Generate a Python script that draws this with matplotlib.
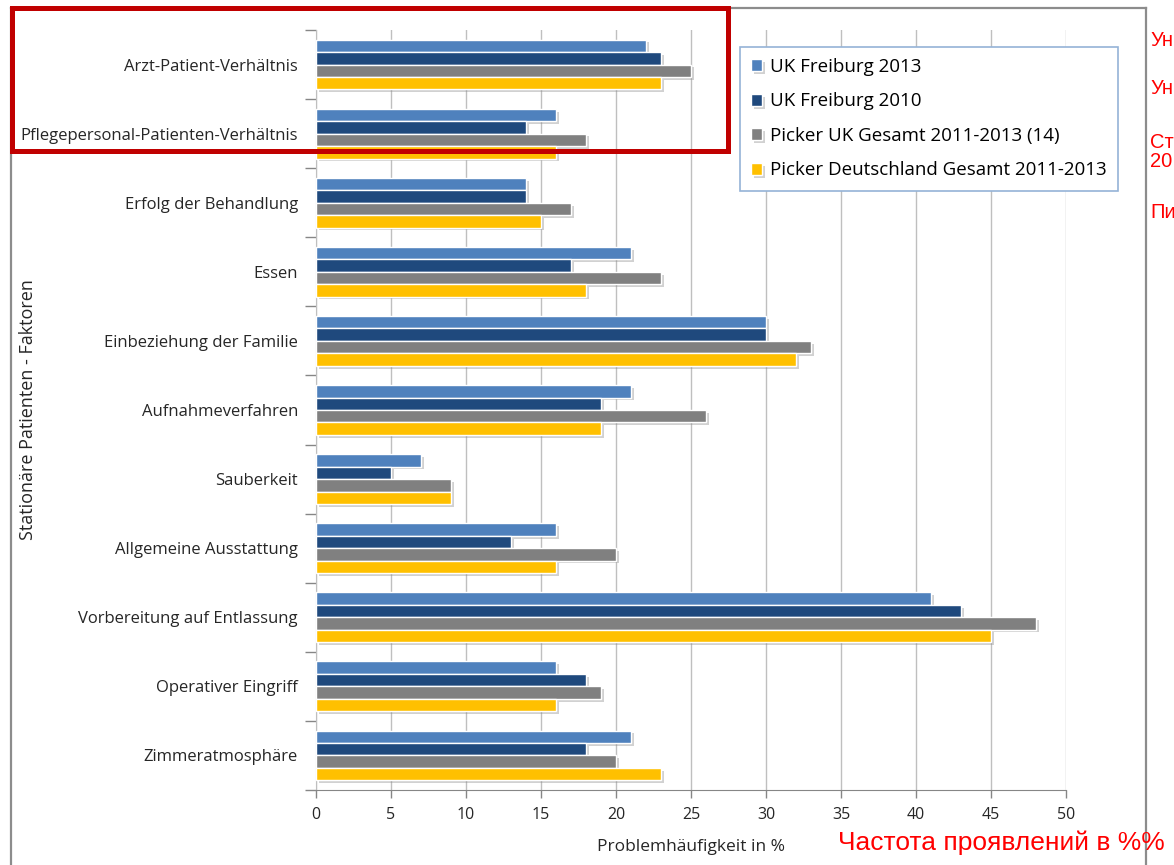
import numpy as np
import matplotlib
matplotlib.use("Agg")
import matplotlib.pyplot as plt
import matplotlib.patheffects as pe
from matplotlib.patches import Rectangle
from matplotlib.lines import Line2D

# data
categories = [
    "Arzt-Patient-Verhältnis",
    "Pflegepersonal-Patienten-Verhältnis",
    "Erfolg der Behandlung",
    "Essen",
    "Einbeziehung der Familie",
    "Aufnahmeverfahren",
    "Sauberkeit",
    "Allgemeine Ausstattung",
    "Vorbereitung auf Entlassung",
    "Operativer Eingriff",
    "Zimmeratmosphäre",
]
uk_freiburg_2013 = [22, 16, 14, 21, 30, 21, 7, 16, 41, 16, 21]
uk_freiburg_2010 = [23, 14, 14, 17, 30, 19, 5, 13, 43, 18, 18]
picker_uk = [25, 18, 17, 23, 33, 26, 9, 20, 48, 19, 20]
picker_de = [23, 16, 15, 18, 32, 19, 9, 16, 45, 16, 23]

series_names = [
    "UK Freiburg 2013",
    "UK Freiburg 2010",
    "Picker UK Gesamt 2011-2013 (14)",
    "Picker Deutschland Gesamt 2011-2013",
]
series_colors = ["#4F81BD", "#1F497D", "#808080", "#FFC000"]
x_ticks = [0, 5, 10, 15, 20, 25, 30, 35, 40, 45, 50]

# russian side notes, cut off at the right edge of the slide
side_labels_ru = ["Ун", "Ун", "Ст\n20", "Пи"]
xlabel_ru = "Частота проявлений в %%"

FONT = ["Open Sans", "DejaVu Sans"]
RU_FONT = ["Liberation Sans", "DejaVu Sans"]
TXT = "#262626"
plt.rcParams["font.family"] = FONT

fig = plt.figure(figsize=(11.74, 8.65), dpi=100)
ax = fig.add_axes([316 / 1174, 75 / 865, 750 / 1174, 760 / 865])

y = np.arange(len(categories))
bar_h = 0.18
shadow = [pe.SimplePatchShadow(offset=(2, -2), shadow_rgbFace="#8c8c8c", alpha=0.4),
          pe.Normal()]
all_series = [uk_freiburg_2013, uk_freiburg_2010, picker_uk, picker_de]
for i, (vals, name, col) in enumerate(zip(all_series, series_names, series_colors)):
    ax.barh(y + (i - 1.5) * bar_h, vals, height=bar_h, color=col,
            edgecolor="white", linewidth=1.0, label=name, zorder=3,
            path_effects=shadow)

ax.set_xlim(0, 50)
ax.set_ylim(len(categories) - 0.5, -0.5)
ax.set_xticks(x_ticks)
ax.set_xticklabels([str(t) for t in x_ticks], fontsize=11.5, color=TXT)
ax.set_yticks(y)
ax.set_yticklabels(categories, fontsize=12, color=TXT)
ax.set_yticks(np.arange(-0.5, len(categories), 1.0), minor=True)
ax.tick_params(axis="y", which="major", length=0, pad=13)
ax.tick_params(axis="y", which="minor", length=8, color="#868686", width=1)
ax.tick_params(axis="x", length=6, color="#868686", width=1, pad=6)
ax.grid(axis="x", color="#bfbfbf", linewidth=1, zorder=0)
ax.set_axisbelow(True)
for s in ["top", "right"]:
    ax.spines[s].set_visible(False)
ax.spines["left"].set_color("#bfbfbf")
ax.spines["bottom"].set_color("#868686")

ax.set_xlabel("Problemhäufigkeit in %", fontsize=12.5, color=TXT, labelpad=12)
fig.text(28 / 1174, 1 - 410 / 865, "Stationäre Patienten - Faktoren", rotation=90,
         ha="center", va="center", fontsize=13, color=TXT)

leg = ax.legend(loc="upper left", bbox_to_anchor=(0.565, 0.978), fontsize=13.5,
                frameon=True, fancybox=False, handlelength=0.6, handleheight=0.6,
                handletextpad=0.4, labelspacing=0.88, borderpad=0.6,
                borderaxespad=0)
leg.get_frame().set_edgecolor("#95B3D7")
leg.get_frame().set_linewidth(1.2)
leg.get_frame().set_alpha(1)

# gray outer frame
frame_kw = dict(color="#8c8c8c", linewidth=1.6, transform=fig.transFigure, zorder=5)
fig.add_artist(Line2D([11 / 1174, 11 / 1174], [0, 1 - 8 / 865], **frame_kw))
fig.add_artist(Line2D([11 / 1174, 1146 / 1174], [1 - 8 / 865, 1 - 8 / 865], **frame_kw))
fig.add_artist(Line2D([1146 / 1174, 1146 / 1174], [0, 1 - 8 / 865], **frame_kw))

# red highlight box
fig.add_artist(Rectangle((12 / 1174, 1 - 151 / 865), 716 / 1174, 143 / 865,
                         transform=fig.transFigure, fill=False, edgecolor="#C00000",
                         linewidth=3.6, zorder=10))

side_y = [40, 88, 152, 213]
for txt, yy in zip(side_labels_ru, side_y):
    fig.text(1150 / 1174, 1 - yy / 865, txt, ha="left", va="center", fontsize=14.5,
             color="#FF0000", family=RU_FONT, linespacing=1.05, zorder=11)
fig.text(838 / 1174, 1 - 843 / 865, xlabel_ru, ha="left", va="center", fontsize=19,
         color="#FF0000", family=RU_FONT, zorder=11)

fig.savefig("out.png", dpi=100)
